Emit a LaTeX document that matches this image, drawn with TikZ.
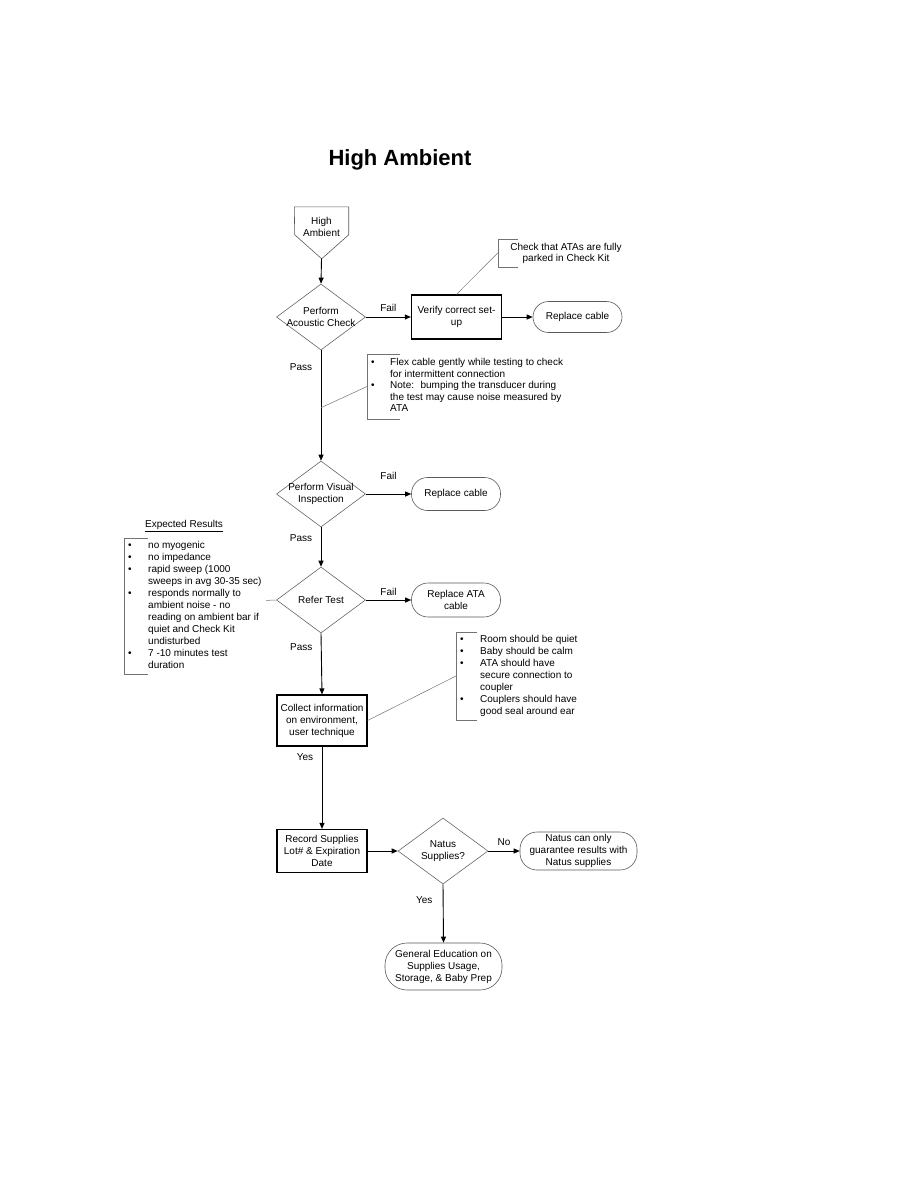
\documentclass[tikz,border=0pt]{standalone}
\usepackage{fontspec}
\setmainfont{Liberation Sans}
\usetikzlibrary{arrows.meta,shapes.geometric,positioning,calc,backgrounds}

\begin{document}
\begin{tikzpicture}[x=1pt, y=-1pt,
    font=\fontsize{10}{12}\selectfont,
    decision/.style={diamond, draw=black!60, line width=0.6pt, minimum width=89pt,
      minimum height=66pt, aspect=1.35, inner xsep=-12pt, inner ysep=-6pt, align=center},
    process/.style={rectangle, draw, line width=1.2pt, minimum width=90pt,
      inner sep=1pt, align=center},
    terminal/.style={rectangle, rounded corners=15.5pt, draw=black!65, line width=0.6pt,
      minimum width=89pt, inner sep=1pt, align=center},
    flow/.style={line width=0.9pt, -{Triangle[length=6pt,width=5pt]}},
    link/.style={draw=black!55, line width=0.5pt},
    remark/.style={anchor=west, fill=white, inner xsep=4pt, inner ysep=2pt}]
    \useasboundingbox (0,0) rectangle (918,1188);

    % title
    \node[font=\fontsize{22}{26}\selectfont\bfseries] (title) at (400,160) {High Ambient};

    % off-page start
    \node[minimum width=54pt, minimum height=40pt, inner sep=0pt, align=center] (start) at (321.5,227) {High\\Ambient};
    \draw[link, draw=black!65, line width=0.6pt] (start.north west) -- (start.north east) -- ++(0,28)
      -- ++(-27,24) -- ++(-27,-24) -- cycle;
    \coordinate (startpt) at ($(start.north)+(0,52)$);

    % main column
    \node[decision] (acoustic) at (321,317) {Perform\\Acoustic Check};
    \node[process, minimum height=44pt] (verify) at (456.5,317) {Verify correct set-\\up};
    \node[terminal, minimum height=31pt] (cable1) at (577.5,317) {Replace cable};
    \node[decision] (visual) at (321,494) {Perform Visual\\Inspection};
    \node[terminal, minimum height=33pt, rounded corners=16pt] (cable2) at (456,494) {Replace cable};
    \node[decision] (refer) at (321,600) {Refer Test};
    \node[terminal, minimum height=34pt, rounded corners=16.5pt] (atacable) at (456,600) {Replace ATA\\cable};
    \node[process, minimum height=51pt] (collect) at (322,720.5) {Collect information\\on environment,\\user technique};
    \node[process, minimum height=43pt] (record) at (322,851) {Record Supplies\\Lot\# \& Expiration\\Date};
    \node[decision, minimum width=90pt] (natus) at (443,851) {Natus\\Supplies?};
    \node[terminal, minimum width=117pt, minimum height=38pt, rounded corners=17pt] (onlynatus) at (578.5,851)
      {Natus can only\\guarantee results with\\Natus supplies};
    \node[terminal, minimum width=117pt, minimum height=47pt, rounded corners=22pt] (education) at (443.5,966.5)
      {General Education on\\Supplies Usage,\\Storage, \& Baby Prep};

    % flow
    \draw[flow] (startpt) -- (acoustic.north);
    \draw[flow] (acoustic.east) -- node[above=2pt] {Fail} (verify.west);
    \draw[flow] (verify.east) -- (cable1.west);
    \draw[flow] (acoustic.south) -- node[pos=0.15, left=5pt] {Pass} (visual.north);
    \draw[flow] (visual.east) -- node[above=11pt] {Fail} (cable2.west);
    \draw[flow] (visual.south) -- node[pos=0.28, left=5pt] {Pass} (refer.north);
    \draw[flow] (refer.east) -- node[above=1pt] {Fail} (atacable.west);
    \draw[flow] (refer.south) -- node[pos=0.23, left=5pt] {Pass} (collect.north);
    \draw[flow] (collect.south) -- node[pos=0.13, left=5pt] {Yes} (record.north);
    \draw[flow] (record.east) -- (natus.west);
    \draw[flow] (natus.east) -- node[above=2pt] {No} (onlynatus.west);
    \draw[flow] (natus.south) -- node[pos=0.27, left=7pt] {Yes} (education.north);

    % notes
    \node[minimum width=136pt, minimum height=28pt, inner sep=0pt, align=center,
      font=\fontsize{10}{11}\selectfont] (setupnote) at (566,253) {Check that ATAs are fully\\parked in Check Kit};
    \draw[link] ([xshift=20pt]setupnote.north west) -- (setupnote.north west) -- (setupnote.south west) -- ++(20,0);
    \draw[link] (verify.north) -- (setupnote.west);

    \node[remark, inner ysep=3.75pt, font=\fontsize{10}{11.5}\selectfont] (flexnote) at (367,386.5) {%
      \begin{tabular}{@{}p{19pt}@{}l@{}}
        \textbullet & Flex cable gently while testing to check\\
                    & for intermittent connection\\
        \textbullet & Note:~ bumping the transducer during\\
                    & the test may cause noise measured by\\
                    & ATA
      \end{tabular}};
    \draw[link] ([xshift=33pt]flexnote.north west) -- (flexnote.north west) -- (flexnote.south west) -- ++(33,0);
    \coordinate (flexpin) at ($(acoustic.south)!0.52!(visual.north)$);
    \draw[link] (flexpin) -- (flexnote.west);

    \node (exptitle) at (184,526) {\underline{Expected Results}};
    \node[remark] (expnote) at (124,606) {%
      \begin{tabular}{@{}p{20pt}@{}l@{}}
        \textbullet & no myogenic\\
        \textbullet & no impedance\\
        \textbullet & rapid sweep (1000\\
                    & sweeps in avg 30-35 sec)\\
        \textbullet & responds normally to\\
                    & ambient noise - no\\
                    & reading on ambient bar if\\
                    & quiet and Check Kit\\
                    & undisturbed\\
        \textbullet & 7 -10 minutes test\\
                    & duration
      \end{tabular}};
    \draw[link] ([xshift=24pt]expnote.north west) -- (expnote.north west) -- (expnote.south west) -- ++(24,0);
    \begin{scope}[on background layer]
      \draw[link] (refer.west) -- (expnote.west);
    \end{scope}

    \node[remark] (collectnote) at (456,676) {%
      \begin{tabular}{@{}p{20pt}@{}l@{}}
        \textbullet & Room should be quiet\\
        \textbullet & Baby should be calm\\
        \textbullet & ATA should have\\
                    & secure connection to\\
                    & coupler\\
        \textbullet & Couplers should have\\
                    & good seal around ear
      \end{tabular}};
    \draw[link] ([xshift=21pt]collectnote.north west) -- (collectnote.north west) -- (collectnote.south west) -- ++(21,0);
    \draw[link] (collect.east) -- (collectnote.west);
\end{tikzpicture}
\end{document}
